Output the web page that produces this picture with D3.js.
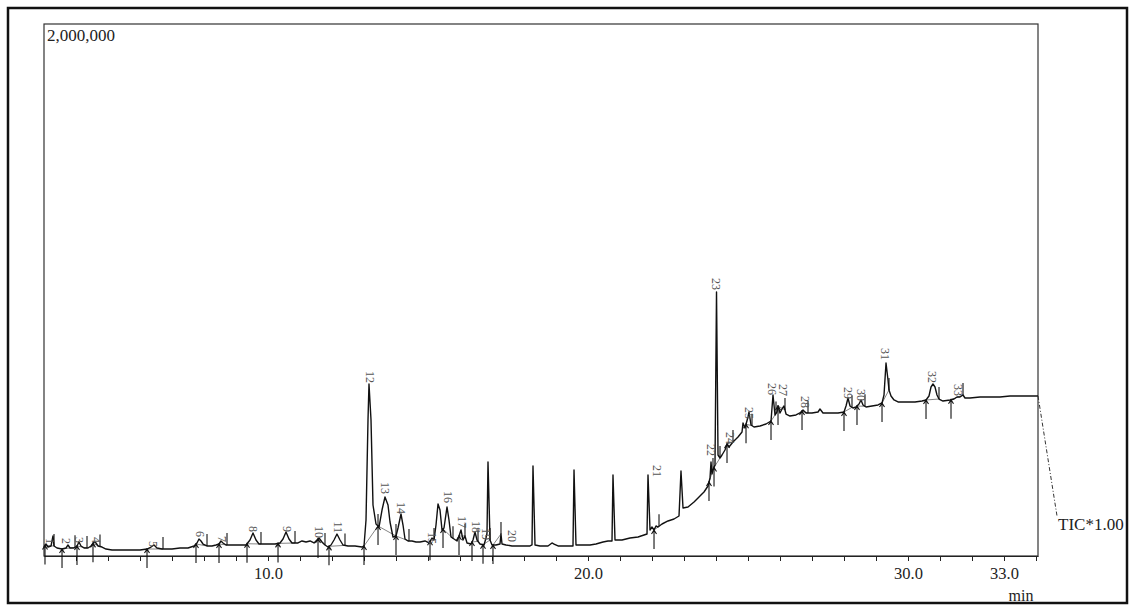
<!DOCTYPE html>
<html>
<head>
<meta charset="utf-8">
<script src="https://cdn.jsdelivr.net/npm/d3@7"></script>
<style>
  html, body { margin: 0; padding: 0; background: #fff; }
  svg { display: block; }
</style>
</head>
<body>
<div id="chart"></div>
<script>
///////////////////////////////////////////////////////////////////////////
///////////////////////////////// Data ////////////////////////////////////
///////////////////////////////////////////////////////////////////////////

// TIC trace: [retention time (min), intensity (counts)]
var ticTrace = [
  [3.000, 33800], [3.063, 45100], [3.125, 33800], [3.219, 37600], [3.281, 75200], [3.313, 37600],
  [3.406, 30100], [3.563, 26300], [3.688, 30100], [3.750, 41400], [3.813, 30100], [3.938, 30100],
  [4.031, 37600], [4.094, 52600], [4.156, 37600], [4.250, 30100], [4.375, 30100], [4.469, 37600],
  [4.563, 52600], [4.625, 48900], [4.688, 37600], [4.813, 33800], [4.938, 26300], [5.125, 22600],
  [5.531, 22600], [6.000, 22600], [6.219, 26300], [6.344, 33800], [6.438, 41400], [6.531, 30100],
  [6.688, 26300], [7.000, 26300], [7.250, 30100], [7.500, 30100], [7.688, 37600], [7.781, 48900],
  [7.844, 63900], [7.906, 56400], [7.969, 45100], [8.094, 37600], [8.250, 37600], [8.375, 41400],
  [8.469, 45100], [8.531, 56400], [8.594, 48900], [8.688, 41400], [8.875, 41400], [9.125, 41400],
  [9.313, 41400], [9.438, 60200], [9.531, 86500], [9.625, 60200], [9.719, 45100], [9.906, 45100],
  [10.219, 45100], [10.375, 48900], [10.469, 63900], [10.563, 90200], [10.656, 63900], [10.750, 48900],
  [10.938, 48900], [11.063, 56400], [11.188, 52600], [11.313, 56400], [11.438, 48900], [11.531, 60200],
  [11.594, 67700], [11.688, 52600], [11.781, 41400], [11.875, 33800], [11.969, 41400], [12.063, 60200],
  [12.156, 82700], [12.250, 60200], [12.344, 41400], [12.500, 37600], [12.719, 37600], [12.938, 33800],
  [13.000, 37600], [13.063, 135300], [13.125, 511300], [13.156, 646600], [13.219, 511300], [13.281, 191700],
  [13.375, 120300], [13.469, 109000], [13.563, 172900], [13.656, 221800], [13.750, 191700], [13.813, 127800],
  [13.906, 71400], [14.000, 75200], [14.063, 105300], [14.156, 157900], [14.219, 116500], [14.281, 63900],
  [14.375, 56400], [14.500, 56400], [14.625, 52600], [14.750, 52600], [14.906, 56400], [15.031, 48900],
  [15.125, 67700], [15.188, 60200], [15.250, 116500], [15.313, 195500], [15.375, 172900], [15.438, 97700],
  [15.500, 105300], [15.594, 184200], [15.656, 135300], [15.719, 71400], [15.813, 63900], [15.906, 56400],
  [15.969, 75200], [16.031, 97700], [16.094, 60200], [16.156, 75200], [16.219, 48900], [16.344, 45100],
  [16.406, 60200], [16.469, 90200], [16.531, 60200], [16.625, 45100], [16.750, 41400], [16.813, 67700],
  [16.844, 86500], [16.875, 353400], [16.938, 60200], [17.000, 41400], [17.125, 41400], [17.250, 45100],
  [17.281, 82700], [17.313, 45100], [17.438, 41400], [17.625, 37600], [17.875, 37600], [18.188, 37600],
  [18.250, 41400], [18.281, 338300], [18.344, 41400], [18.500, 37600], [18.750, 37600], [18.875, 48900],
  [18.938, 45100], [19.063, 37600], [19.313, 37600], [19.531, 37600], [19.563, 323300], [19.625, 41400],
  [19.813, 41400], [20.063, 41400], [20.250, 45100], [20.469, 52600], [20.625, 56400], [20.750, 56400],
  [20.781, 304500], [20.844, 60200], [21.063, 60200], [21.313, 67700], [21.563, 71400], [21.750, 78900],
  [21.844, 82700], [21.875, 304500], [21.938, 97700], [22.000, 109000], [22.063, 97700], [22.125, 112800],
  [22.188, 109000], [22.313, 120300], [22.500, 131600], [22.688, 139100], [22.844, 150400], [22.906, 319500],
  [22.969, 180500], [23.125, 184200], [23.313, 203000], [23.500, 225600], [23.625, 240600], [23.750, 263200],
  [23.813, 293200], [23.844, 353400], [23.875, 308300], [23.906, 323300], [23.969, 342100], [24.016, 992500],
  [24.063, 379700], [24.125, 368400], [24.188, 379700], [24.281, 398500], [24.344, 421100], [24.406, 409800],
  [24.531, 428600], [24.688, 447400], [24.813, 466200], [24.844, 500000], [24.906, 481200], [25.000, 522600],
  [25.031, 541400], [25.094, 492500], [25.188, 485000], [25.375, 488700], [25.563, 496200], [25.719, 507500],
  [25.781, 605300], [25.844, 530100], [25.906, 541400], [25.938, 563900], [26.000, 537600], [26.063, 552600],
  [26.125, 563900], [26.188, 533800], [26.313, 526300], [26.500, 530100], [26.625, 537600], [26.719, 548900],
  [26.813, 537600], [27.000, 537600], [27.188, 541400], [27.250, 552600], [27.344, 537600], [27.563, 537600],
  [27.813, 537600], [28.000, 541400], [28.063, 563900], [28.125, 594000], [28.188, 563900], [28.281, 556400],
  [28.375, 560200], [28.469, 571400], [28.531, 586500], [28.594, 567700], [28.688, 560200], [28.875, 563900],
  [29.063, 567700], [29.188, 575200], [29.250, 605300], [29.313, 725600], [29.375, 661700], [29.406, 624100],
  [29.469, 601500], [29.563, 586500], [29.688, 579000], [29.906, 579000], [30.219, 579000], [30.438, 582700],
  [30.563, 586500], [30.656, 601500], [30.719, 635300], [30.781, 646600], [30.844, 635300], [30.906, 605300],
  [30.969, 590200], [31.094, 582700], [31.313, 586500], [31.438, 590200], [31.531, 597700], [31.625, 597700],
  [31.719, 605300], [31.781, 594000], [31.938, 594000], [32.250, 597700], [32.563, 597700], [32.875, 597700],
  [33.188, 601500], [33.500, 601500], [33.813, 601500], [34.063, 601500]
]

// integrated peaks
var peakLabels = ["1","2","3","4","5","6","7","8","9","10","11","12","13","14","15","16","17",
  "18","19","20","21","22","23","24","25","26","27","28","29","30","31","32","33"]
var peakStart = [3.031, 3.563, 4.031, 4.531, 6.219, 7.750, 8.469, 9.344, 10.313, 11.563, 11.906,
  13.000, 13.438, 14.000, 15.063, 15.469, 15.969, 16.375, 16.719, 17.031, 22.063, 23.781, 23.938,
  24.344, 24.938, 25.719, 25.938, 26.688, 28.000, 28.406, 29.188, 30.563, 31.344]
var peakEnd = [3.313, 3.969, 4.344, 4.750, 6.719, 8.094, 8.719, 9.781, 10.844, 11.781, 12.406,
  13.438, 14.000, 14.406, 15.188, 15.781, 16.156, 16.563, 16.938, 17.281, 22.219, 23.906, 24.125,
  24.531, 25.125, 25.875, 26.156, 26.875, 28.250, 28.656, 29.406, 30.969, 31.719]
// where the software put each peak number (time, height)
var labelTime = [3.188, 3.688, 4.094, 4.625, 6.406, 7.875, 8.563, 9.531, 10.594, 11.594, 12.188,
  13.188, 13.656, 14.156, 15.125, 15.625, 16.063, 16.500, 16.813, 17.625, 22.156, 23.844, 24.000,
  24.438, 25.031, 25.750, 26.094, 26.781, 28.125, 28.531, 29.281, 30.750, 31.563]
var labelHeight = [45100, 45100, 48900, 48900, 33800, 71400, 52600, 90200, 90200, 67700, 86500,
  650400, 233100, 157900, 45100, 199200, 105300, 86500, 60200, 52600, 297000, 375900, 1000000,
  421100, 515000, 605300, 601500, 556400, 590200, 582700, 736800, 650400, 601500]

var xTicks = d3.range(4, 35)
var xTickLabels = [10, 20, 30, 33]
var yTopLabel = 2000000
var traceName = "TIC*1.00"

///////////////////////////////////////////////////////////////////////////
//////////////////////////////// Setup ////////////////////////////////////
///////////////////////////////////////////////////////////////////////////

var totalWidth = 1130, totalHeight = 605
var plot = {left: 44, top: 24, right: 1038, bottom: 556}
var serif = "'Liberation Serif', 'DejaVu Serif', serif"

var svg = d3.select('#chart').append('svg')
  .attr('width', totalWidth)
  .attr('height', totalHeight)

var xScale = d3.scaleLinear().domain([3.0, 34.0625]).range([plot.left, plot.right])
var yScale = d3.scaleLinear().domain([0, yTopLabel]).range([plot.bottom, plot.top])

// value of the trace at any time (for markers and baselines)
var bis = d3.bisector(d => d[0]).left
function traceAt(t) {
  var i = bis(ticTrace, t)
  if (i <= 0) return ticTrace[0][1]
  if (i >= ticTrace.length) return ticTrace[ticTrace.length - 1][1]
  var a = ticTrace[i - 1], b = ticTrace[i]
  return a[1] + (b[1] - a[1]) * (t - a[0]) / (b[0] - a[0])
}

///////////////////////////////////////////////////////////////////////////
//////////////////////////////// Frames ///////////////////////////////////
///////////////////////////////////////////////////////////////////////////

svg.append('rect')
  .attr('x', 8).attr('y', 8)
  .attr('width', 1119).attr('height', 595)
  .attr('fill', 'none').attr('stroke', '#111').attr('stroke-width', 2.5)

svg.append('rect')
  .attr('x', plot.left).attr('y', plot.top)
  .attr('width', plot.right - plot.left).attr('height', plot.bottom - plot.top)
  .attr('fill', 'none').attr('stroke', '#333').attr('stroke-width', 1.2)

///////////////////////////////////////////////////////////////////////////
//////////////////////////////// Axis /////////////////////////////////////
///////////////////////////////////////////////////////////////////////////

var xAxis = d3.axisBottom(xScale)
  .tickValues(xTicks)
  .tickSize(5)
  .tickSizeOuter(0)
  .tickFormat(d => xTickLabels.indexOf(d) >= 0 ? d.toFixed(1) : "")

var gx = svg.append('g')
  .attr('transform', 'translate(0,' + plot.bottom + ')')
  .call(xAxis)
gx.select('.domain').attr('stroke', '#222').attr('stroke-width', 1.2)
gx.selectAll('.tick line').attr('stroke', '#222')
gx.selectAll('.tick text')
  .attr('font-family', serif)
  .attr('font-size', 16.5)
  .attr('fill', '#222')
  .attr('y', 11)

svg.append('text')
  .attr('x', xScale(33) + 17).attr('y', 601)
  .attr('text-anchor', 'middle')
  .attr('font-family', serif).attr('font-size', 16).attr('fill', '#222')
  .text('min')

svg.append('text')
  .attr('x', plot.left + 3).attr('y', plot.top + 17)
  .attr('font-family', serif).attr('font-size', 17).attr('fill', '#222')
  .text(d3.format(',')(yTopLabel))

///////////////////////////////////////////////////////////////////////////
///////////////////////////// Baselines ///////////////////////////////////
///////////////////////////////////////////////////////////////////////////

svg.append('g').selectAll('line')
  .data(peakStart)
  .join('line')
  .attr('x1', d => xScale(d))
  .attr('y1', d => yScale(traceAt(d)))
  .attr('x2', (d, i) => xScale(peakEnd[i]))
  .attr('y2', (d, i) => yScale(traceAt(peakEnd[i])))
  .attr('stroke', '#777').attr('stroke-width', 0.9)

///////////////////////////////////////////////////////////////////////////
/////////////////////////////// Trace /////////////////////////////////////
///////////////////////////////////////////////////////////////////////////

var line = d3.line()
  .x(d => xScale(d[0]))
  .y(d => yScale(d[1]))

svg.append('path')
  .datum(ticTrace)
  .attr('d', line)
  .attr('fill', 'none')
  .attr('stroke', '#111')
  .attr('stroke-width', 1.4)
  .attr('stroke-linejoin', 'round')

///////////////////////////////////////////////////////////////////////////
/////////////////////////// Peak markers //////////////////////////////////
///////////////////////////////////////////////////////////////////////////

var markers = svg.append('g').attr('stroke', '#111').attr('fill', 'none').attr('stroke-width', 1.1)

// start of a peak: tick below the trace with small arrow head
markers.selectAll('.start')
  .data(peakStart)
  .join('path')
  .attr('class', 'start')
  .attr('d', d => {
    var px = xScale(d), py = yScale(traceAt(d))
    return 'M' + px + ',' + (py - 1) + 'L' + px + ',' + (py + 19) +
      'M' + (px - 2.5) + ',' + (py + 4) + 'L' + px + ',' + py + 'L' + (px + 2.5) + ',' + (py + 4)
  })

// end of a peak: short tick above the trace
markers.selectAll('.end')
  .data(peakEnd)
  .join('path')
  .attr('class', 'end')
  .attr('d', d => {
    var px = xScale(d), py = yScale(traceAt(d))
    return 'M' + px + ',' + py + 'L' + px + ',' + (py - 12)
  })

///////////////////////////////////////////////////////////////////////////
/////////////////////////// Peak numbers //////////////////////////////////
///////////////////////////////////////////////////////////////////////////

svg.append('g').selectAll('text')
  .data(peakLabels)
  .join('text')
  .attr('transform', (d, i) => 'translate(' + xScale(labelTime[i]) + ',' + yScale(labelHeight[i]) + ') rotate(90)')
  .attr('text-anchor', 'end')
  .attr('dy', '0.35em')
  .attr('font-family', serif)
  .attr('font-size', 12)
  .attr('fill', '#555')
  .text(d => d)

///////////////////////////////////////////////////////////////////////////
//////////////////////////// Trace name ///////////////////////////////////
///////////////////////////////////////////////////////////////////////////

var last = ticTrace[ticTrace.length - 1]
svg.append('line')
  .attr('x1', xScale(last[0])).attr('y1', yScale(last[1]))
  .attr('x2', xScale(last[0]) + 19).attr('y2', yScale(last[1]) + 120)
  .attr('stroke', '#333').attr('stroke-width', 1)
  .attr('stroke-dasharray', '4,2,1,2')

svg.append('text')
  .attr('x', xScale(last[0]) + 20).attr('y', yScale(last[1]) + 134)
  .attr('font-family', serif).attr('font-size', 17).attr('fill', '#222')
  .text(traceName)
</script>
</body>
</html>
